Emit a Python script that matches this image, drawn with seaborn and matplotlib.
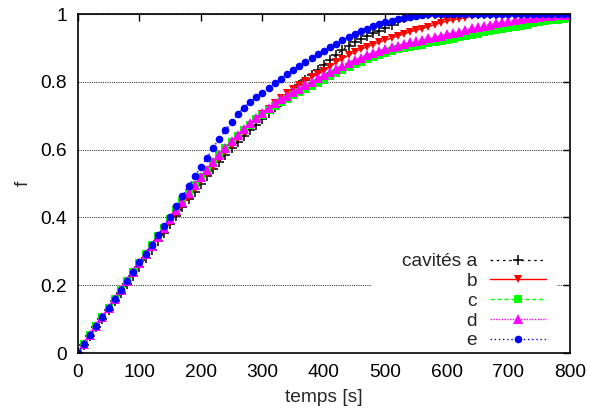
import numpy as np
import pandas as pd
import seaborn as sns
import matplotlib
matplotlib.use("Agg")
import matplotlib.pyplot as plt
from matplotlib.patches import Rectangle

# temps [s], one sample every 10 s
temps = list(range(0, 801, 10))

# cavités a (black +)
f_a = [0.000, 0.025, 0.050, 0.076, 0.101, 0.126, 0.152, 0.177, 0.203, 0.228,
       0.254, 0.279, 0.305, 0.330, 0.355, 0.380, 0.405, 0.430, 0.453, 0.476,
       0.499, 0.521, 0.543, 0.564, 0.585, 0.604, 0.622, 0.640, 0.657, 0.674,
       0.691, 0.708, 0.725, 0.741, 0.758, 0.775, 0.791, 0.806, 0.821, 0.836,
       0.850, 0.865, 0.880, 0.894, 0.907, 0.918, 0.927, 0.935, 0.943, 0.951,
       0.960, 0.969, 0.978, 0.987, 0.994, 0.999, 1.000, 1.000, 1.000, 1.000,
       1.000, 1.000, 1.000, 1.000, 1.000, 1.000, 1.000, 1.000, 1.000, 1.000,
       1.000, 1.000, 1.000, 1.000, 1.000, 1.000, 1.000, 1.000, 1.000, 1.000,
       1.000]
# b (red, down triangles)
f_b = [0.000, 0.026, 0.052, 0.078, 0.104, 0.130, 0.156, 0.182, 0.208, 0.234,
       0.260, 0.286, 0.311, 0.337, 0.362, 0.387, 0.412, 0.436, 0.460, 0.483,
       0.506, 0.528, 0.550, 0.572, 0.593, 0.613, 0.633, 0.652, 0.670, 0.688,
       0.705, 0.721, 0.737, 0.752, 0.766, 0.779, 0.792, 0.803, 0.813, 0.822,
       0.832, 0.845, 0.857, 0.868, 0.878, 0.888, 0.896, 0.903, 0.910, 0.917,
       0.923, 0.929, 0.935, 0.941, 0.947, 0.952, 0.957, 0.963, 0.968, 0.974,
       0.979, 0.983, 0.986, 0.989, 0.993, 0.996, 0.998, 1.000, 1.000, 1.000,
       1.000, 1.000, 1.000, 1.000, 1.000, 1.000, 1.000, 1.000, 1.000, 1.000,
       1.000]
# c (green squares)
f_c = [0.000, 0.027, 0.054, 0.080, 0.107, 0.134, 0.160, 0.187, 0.213, 0.240,
       0.266, 0.292, 0.318, 0.344, 0.370, 0.396, 0.422, 0.447, 0.472, 0.496,
       0.519, 0.541, 0.563, 0.584, 0.604, 0.623, 0.641, 0.658, 0.674, 0.689,
       0.703, 0.716, 0.728, 0.739, 0.750, 0.760, 0.770, 0.779, 0.788, 0.797,
       0.806, 0.816, 0.826, 0.835, 0.844, 0.852, 0.859, 0.866, 0.873, 0.880,
       0.886, 0.891, 0.896, 0.900, 0.904, 0.907, 0.910, 0.913, 0.916, 0.919,
       0.923, 0.927, 0.931, 0.935, 0.939, 0.942, 0.946, 0.950, 0.954, 0.957,
       0.960, 0.963, 0.966, 0.969, 0.972, 0.975, 0.978, 0.981, 0.983, 0.985,
       0.987]
# d (magenta up triangles)
f_d = [0.000, 0.027, 0.053, 0.080, 0.106, 0.133, 0.159, 0.186, 0.212, 0.239,
       0.265, 0.291, 0.317, 0.343, 0.369, 0.395, 0.421, 0.446, 0.471, 0.495,
       0.518, 0.540, 0.562, 0.583, 0.604, 0.624, 0.643, 0.661, 0.678, 0.694,
       0.709, 0.723, 0.736, 0.748, 0.759, 0.770, 0.780, 0.790, 0.800, 0.810,
       0.820, 0.830, 0.839, 0.848, 0.856, 0.864, 0.871, 0.878, 0.885, 0.891,
       0.897, 0.902, 0.907, 0.912, 0.916, 0.920, 0.924, 0.928, 0.932, 0.936,
       0.940, 0.944, 0.948, 0.953, 0.958, 0.962, 0.965, 0.969, 0.972, 0.976,
       0.979, 0.982, 0.984, 0.987, 0.989, 0.991, 0.993, 0.995, 0.996, 0.997,
       0.998]
# e (blue circles)
f_e = [0.000, 0.027, 0.053, 0.080, 0.107, 0.133, 0.160, 0.187, 0.213, 0.240,
       0.267, 0.293, 0.320, 0.347, 0.374, 0.402, 0.433, 0.463, 0.493, 0.521,
       0.549, 0.576, 0.606, 0.632, 0.657, 0.681, 0.705, 0.724, 0.740, 0.754,
       0.768, 0.782, 0.796, 0.809, 0.823, 0.835, 0.847, 0.859, 0.870, 0.881,
       0.892, 0.902, 0.912, 0.922, 0.932, 0.941, 0.950, 0.957, 0.964, 0.970,
       0.975, 0.980, 0.985, 0.989, 0.992, 0.995, 0.997, 0.999, 1.000, 1.000,
       1.000, 1.000, 1.000, 1.000, 1.000, 1.000, 1.000, 1.000, 1.000, 1.000,
       1.000, 1.000, 1.000, 1.000, 1.000, 1.000, 1.000, 1.000, 1.000, 1.000,
       1.000]

labels = ["cavités a", "b", "c", "d", "e"]

sns.set_theme(style="white")
plt.rcParams["font.family"] = ["Liberation Sans", "DejaVu Sans"]
FS = 13.8

fig = plt.figure(figsize=(5.9, 4.18), dpi=100)
ax = fig.add_axes([0.132, 0.1555, 0.834, 0.811])

styles = [
    dict(color="black", marker="+", markersize=7.5, markeredgewidth=1.1, linestyle=(0, (2, 3)), linewidth=0.9),
    dict(color="#ff0000", marker="v", markersize=6, markeredgewidth=0, linestyle="-", linewidth=1.0),
    dict(color="#00ff00", marker="s", markersize=5.5, markeredgewidth=0, linestyle=(0, (3, 2)), linewidth=1.0),
    dict(color="#ff00ff", marker="^", markersize=6.5, markeredgewidth=0, linestyle=(0, (1, 1)), linewidth=1.0),
    dict(color="#0000ff", marker="o", markersize=5.5, markeredgewidth=0, linestyle=(0, (1, 2)), linewidth=1.0),
]

for vals, lab, st in zip([f_a, f_b, f_c, f_d, f_e], labels, styles):
    df = pd.DataFrame({"temps": temps, "f": vals})
    sns.lineplot(data=df, x="temps", y="f", ax=ax, label=lab,
                 markeredgecolor=st["color"], **st)

ax.set_xlim(0, 800)
ax.set_ylim(0, 1)
ax.set_xticks(range(0, 801, 100))
ax.set_yticks([0, 0.2, 0.4, 0.6, 0.8, 1])
ax.set_yticklabels(["0", "0.2", "0.4", "0.6", "0.8", "1"])
ax.tick_params(direction="in", length=5, width=1, labelsize=FS, pad=8,
               top=True, right=True, colors="black")
for s in ax.spines.values():
    s.set_color("black")
    s.set_linewidth(1.2)
ax.yaxis.grid(True, linestyle=(0, (1, 1)), color="0.25", linewidth=0.8)
ax.xaxis.grid(False)
ax.set_axisbelow(True)

ax.set_xlabel("temps [s]", fontsize=FS, labelpad=6)
ax.set_ylabel("f", fontsize=FS, labelpad=6)

# opaque key area (hides the grid line behind the legend, like gnuplot)
ax.add_patch(Rectangle((0.598, 0.03), 0.376, 0.28, transform=ax.transAxes,
                       facecolor="white", edgecolor="none", zorder=1))

leg = ax.legend(loc="lower right", bbox_to_anchor=(0.963, -0.006), fontsize=FS,
                markerfirst=False, numpoints=1, handlelength=2.9, handletextpad=0.7,
                labelspacing=0.12, borderpad=0.3, borderaxespad=0, frameon=False)

fig.savefig("out.png", dpi=100)
